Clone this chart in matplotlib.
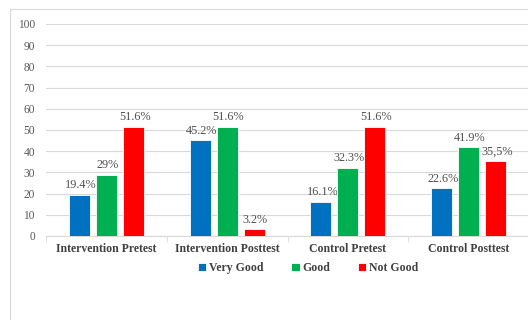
import matplotlib
matplotlib.use("Agg")
import matplotlib.pyplot as plt
from matplotlib.patches import Rectangle
import numpy as np

categories = ["Intervention Pretest", "Intervention Posttest", "Control Pretest", "Control Posttest"]
series_names = ["Very Good", "Good", "Not Good"]
very_good = [19.4, 45.2, 16.1, 22.6]
good = [29, 51.6, 32.3, 41.9]
not_good = [51.6, 3.2, 51.6, 35.5]
labels_very_good = ["19.4%", "45.2%", "16.1%", "22.6%"]
labels_good = ["29%", "51.6%", "32.3%", "41.9%"]
labels_not_good = ["51.6%", "3.2%", "51.6%", "35,5%"]
colors = ["#0070C0", "#00B050", "#FF0000"]

plt.rcParams['font.family'] = ['Liberation Serif', 'DejaVu Serif']

fig = plt.figure(figsize=(5.28, 3.2), dpi=100)
fig.patches.append(Rectangle((10/528, -0.1), 1.2, 1 - 9/320 + 0.1, transform=fig.transFigure,
                             fill=False, edgecolor="#d9d9d9", linewidth=0.8, zorder=0))
ax = fig.add_axes([46/528, (320-236)/320, 483/528, (236-24)/320])

x = np.arange(len(categories))
w = 0.174
off = 0.223
all_vals = [very_good, good, not_good]
all_labels = [labels_very_good, labels_good, labels_not_good]
for i, (vals, labs, c, name) in enumerate(zip(all_vals, all_labels, colors, series_names)):
    xs = x + (i - 1) * off
    ax.bar(xs, vals, width=w, color=c, edgecolor="white", linewidth=0.6, label=name, zorder=3)
    for xi, v, lab in zip(xs, vals, labs):
        ax.annotate(lab, (xi, v), xytext=(1, 2.5), textcoords="offset points",
                    ha="center", va="bottom", fontsize=8.8, color="#505050")

ax.set_xlim(-0.5, 3.5)
ax.set_ylim(0, 100)
ax.set_yticks(range(0, 101, 10))
ax.yaxis.grid(True, color="#d9d9d9", linewidth=0.8, zorder=0)
ax.set_axisbelow(True)
for s in ["top", "right", "left"]:
    ax.spines[s].set_visible(False)
ax.spines["bottom"].set_color("#d9d9d9")
ax.tick_params(axis="y", length=0, labelsize=8.3, labelcolor="#595959", pad=8)
ax.set_xticks(x)
ax.set_xticklabels(categories, fontsize=8.5, fontweight="bold", color="#404040")
ax.tick_params(axis="x", length=0, pad=5)
ax.set_xticks([-0.5, 0.5, 1.5, 2.5], minor=True)
ax.tick_params(axis="x", which="minor", length=4, color="#d9d9d9")

fig.legend(loc="center", bbox_to_anchor=(308/528, 1 - 268/320), ncol=3, frameon=False,
           handlelength=0.7, handleheight=0.7, handletextpad=0.2, columnspacing=2.4,
           prop={"family": "Liberation Serif", "weight": "bold", "size": 8.5},
           labelcolor="#404040")

fig.savefig("out.png", dpi=100)
